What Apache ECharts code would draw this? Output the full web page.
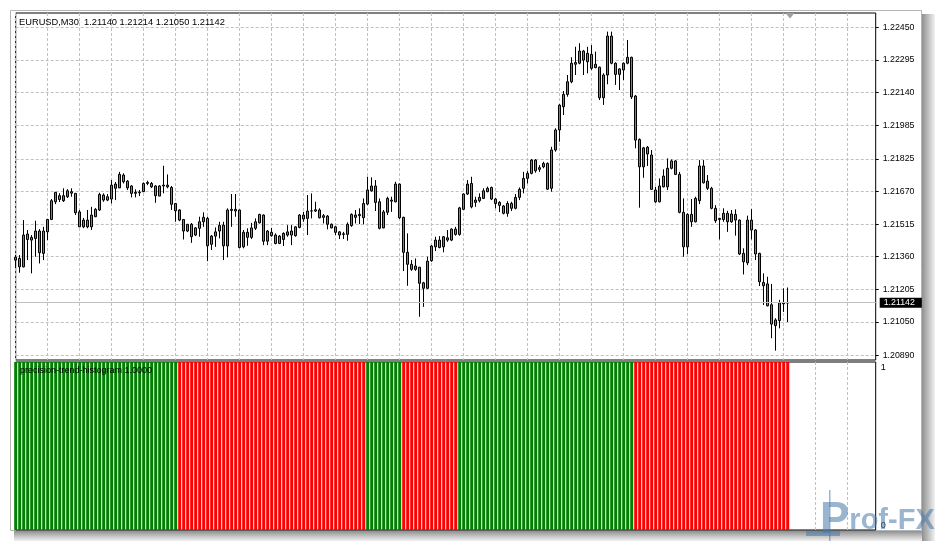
<!DOCTYPE html>
<html><head><meta charset="utf-8">
<script src="https://cdn.jsdelivr.net/npm/echarts@6/dist/echarts.min.js"></script>
<style>html,body{margin:0;padding:0;background:#fff}#c{width:935px;height:541px}</style>
</head><body><div id="c"></div>
<script>
const open = [1.21344,1.21352,1.21312,1.21468,1.21439,1.21447,1.21482,1.21376,1.21478,1.21537,
1.21621,1.21650,1.21626,1.21645,1.21662,1.21661,1.21573,1.21502,1.21534,1.21502,
1.21550,1.21582,1.21653,1.21629,1.21634,1.21705,1.21687,1.21748,1.21719,1.21696,
1.21666,1.21664,1.21669,1.21708,1.21708,1.21696,1.21648,1.21696,1.21700,1.21689,
1.21613,1.21582,1.21537,1.21482,1.21514,1.21463,1.21495,1.21526,1.21542,1.21419,
1.21458,1.21482,1.21510,1.21411,1.21580,1.21585,1.21582,1.21407,1.21476,1.21452,
1.21495,1.21521,1.21558,1.21434,1.21476,1.21463,1.21423,1.21442,1.21463,1.21482,
1.21460,1.21499,1.21558,1.21542,1.21577,1.21577,1.21582,1.21547,1.21553,1.21514,
1.21502,1.21478,1.21469,1.21466,1.21508,1.21558,1.21555,1.21545,1.21610,1.21673,
1.21696,1.21621,1.21497,1.21571,1.21624,1.21621,1.21705,1.21547,1.21381,1.21324,
1.21300,1.21310,1.21236,1.21210,1.21341,1.21407,1.21439,1.21407,1.21439,1.21439,
1.21491,1.21466,1.21585,1.21658,1.21708,1.21618,1.21626,1.21637,1.21669,1.21689,
1.21634,1.21618,1.21601,1.21566,1.21613,1.21590,1.21642,1.21685,1.21732,1.21756,
1.21819,1.21775,1.21787,1.21803,1.21685,1.21867,1.21962,1.22072,1.22131,1.22191,
1.22274,1.22279,1.22337,1.22286,1.22321,1.22258,1.22260,1.22115,1.22223,1.22408,
1.22279,1.22226,1.22247,1.22279,1.22307,1.22123,1.21917,1.21787,1.21880,1.21843,
1.21677,1.21621,1.21692,1.21692,1.21780,1.21815,1.21751,1.21571,1.21407,1.21561,
1.21526,1.21626,1.21791,1.21719,1.21685,1.21590,1.21542,1.21537,1.21566,1.21526,
1.21561,1.21534,1.21376,1.21331,1.21534,1.21487,1.21376,1.21238,1.21231,1.21132,
1.21033,1.21057,1.21141,1.21140];
const close = [1.21358,1.21312,1.21463,1.21442,1.21452,1.21482,1.21379,1.21482,1.21537,1.21626,
1.21666,1.21632,1.21650,1.21673,1.21669,1.21569,1.21502,1.21534,1.21502,1.21558,
1.21585,1.21656,1.21629,1.21645,1.21700,1.21685,1.21751,1.21716,1.21687,1.21661,
1.21661,1.21667,1.21708,1.21713,1.21692,1.21650,1.21696,1.21700,1.21692,1.21609,
1.21578,1.21534,1.21482,1.21514,1.21455,1.21497,1.21526,1.21547,1.21412,1.21458,
1.21478,1.21508,1.21412,1.21582,1.21585,1.21577,1.21404,1.21476,1.21452,1.21497,
1.21526,1.21561,1.21434,1.21482,1.21460,1.21423,1.21458,1.21471,1.21478,1.21463,
1.21502,1.21558,1.21539,1.21577,1.21578,1.21583,1.21545,1.21555,1.21514,1.21497,
1.21476,1.21463,1.21466,1.21514,1.21561,1.21547,1.21561,1.21613,1.21677,1.21696,
1.21618,1.21495,1.21573,1.21637,1.21629,1.21705,1.21545,1.21381,1.21324,1.21300,
1.21316,1.21234,1.21210,1.21339,1.21411,1.21439,1.21404,1.21455,1.21450,1.21491,
1.21466,1.21592,1.21658,1.21705,1.21597,1.21629,1.21642,1.21673,1.21685,1.21634,
1.21613,1.21604,1.21566,1.21613,1.21590,1.21642,1.21680,1.21732,1.21756,1.21819,
1.21768,1.21783,1.21803,1.21681,1.21867,1.21962,1.22080,1.22131,1.22191,1.22279,
1.22282,1.22337,1.22294,1.22326,1.22255,1.22274,1.22115,1.22223,1.22408,1.22279,
1.22226,1.22252,1.22279,1.22307,1.22119,1.21914,1.21787,1.21877,1.21848,1.21680,
1.21621,1.21696,1.21743,1.21780,1.21815,1.21751,1.21571,1.21407,1.21561,1.21526,
1.21637,1.21791,1.21711,1.21685,1.21590,1.21531,1.21537,1.21566,1.21526,1.21563,
1.21534,1.21373,1.21336,1.21534,1.21487,1.21373,1.21241,1.21222,1.21127,1.21040,
1.21060,1.21141,1.21136,1.21142];
const low = [1.21306,1.21284,1.21309,1.21344,1.21281,1.21360,1.21328,1.21344,1.21439,1.21534,
1.21610,1.21620,1.21620,1.21639,1.21645,1.21558,1.21501,1.21496,1.21495,1.21487,
1.21548,1.21577,1.21621,1.21624,1.21613,1.21629,1.21686,1.21708,1.21677,1.21642,
1.21642,1.21648,1.21667,1.21700,1.21686,1.21616,1.21648,1.21661,1.21685,1.21582,
1.21526,1.21529,1.21442,1.21477,1.21426,1.21458,1.21455,1.21502,1.21339,1.21392,
1.21407,1.21447,1.21344,1.21357,1.21502,1.21550,1.21400,1.21400,1.21412,1.21444,
1.21487,1.21518,1.21415,1.21415,1.21455,1.21419,1.21420,1.21411,1.21455,1.21415,
1.21455,1.21495,1.21526,1.21463,1.21542,1.21573,1.21542,1.21518,1.21490,1.21495,
1.21463,1.21444,1.21444,1.21436,1.21502,1.21518,1.21515,1.21514,1.21605,1.21669,
1.21577,1.21490,1.21495,1.21558,1.21573,1.21618,1.21539,1.21292,1.21222,1.21293,
1.21293,1.21075,1.21122,1.21207,1.21336,1.21387,1.21400,1.21381,1.21431,1.21434,
1.21460,1.21460,1.21582,1.21653,1.21590,1.21597,1.21618,1.21634,1.21666,1.21629,
1.21590,1.21572,1.21561,1.21550,1.21577,1.21585,1.21629,1.21661,1.21708,1.21751,
1.21759,1.21763,1.21780,1.21677,1.21669,1.21859,1.21906,1.22033,1.22120,1.22184,
1.22223,1.22274,1.22223,1.22231,1.22247,1.22255,1.22104,1.22081,1.22179,1.22274,
1.22176,1.22152,1.22199,1.22274,1.22109,1.21875,1.21593,1.21735,1.21791,1.21677,
1.21616,1.21618,1.21689,1.21677,1.21775,1.21748,1.21566,1.21360,1.21373,1.21502,
1.21523,1.21610,1.21708,1.21677,1.21585,1.21521,1.21442,1.21526,1.21478,1.21521,
1.21460,1.21368,1.21276,1.21320,1.21442,1.21344,1.21221,1.21131,1.21124,1.20973,
1.20914,1.21020,1.21098,1.21050];
const high = [1.21368,1.21368,1.21534,1.21487,1.21463,1.21531,1.21491,1.21502,1.21539,1.21634,
1.21667,1.21662,1.21685,1.21681,1.21685,1.21662,1.21582,1.21544,1.21582,1.21597,
1.21591,1.21664,1.21661,1.21658,1.21724,1.21715,1.21763,1.21756,1.21724,1.21700,
1.21680,1.21677,1.21713,1.21721,1.21715,1.21700,1.21700,1.21792,1.21751,1.21696,
1.21615,1.21586,1.21539,1.21515,1.21520,1.21501,1.21550,1.21571,1.21550,1.21463,
1.21499,1.21526,1.21526,1.21590,1.21658,1.21658,1.21584,1.21487,1.21495,1.21521,
1.21542,1.21564,1.21561,1.21487,1.21497,1.21471,1.21463,1.21476,1.21510,1.21510,
1.21505,1.21563,1.21573,1.21653,1.21661,1.21621,1.21590,1.21563,1.21558,1.21518,
1.21505,1.21482,1.21478,1.21523,1.21566,1.21582,1.21590,1.21637,1.21740,1.21737,
1.21724,1.21637,1.21582,1.21645,1.21645,1.21716,1.21708,1.21550,1.21471,1.21344,
1.21352,1.21312,1.21241,1.21360,1.21415,1.21455,1.21458,1.21458,1.21487,1.21495,
1.21502,1.21597,1.21661,1.21724,1.21740,1.21645,1.21661,1.21685,1.21693,1.21693,
1.21640,1.21624,1.21605,1.21624,1.21621,1.21658,1.21689,1.21763,1.21767,1.21824,
1.21824,1.21795,1.21811,1.21808,1.21882,1.21970,1.22085,1.22147,1.22223,1.22307,
1.22357,1.22374,1.22342,1.22357,1.22365,1.22334,1.22263,1.22231,1.22429,1.22429,
1.22283,1.22255,1.22283,1.22389,1.22310,1.22128,1.21922,1.21882,1.21886,1.21867,
1.21692,1.21732,1.21775,1.21827,1.21822,1.21819,1.21763,1.21637,1.21566,1.21634,
1.21645,1.21819,1.21819,1.21748,1.21692,1.21605,1.21545,1.21590,1.21578,1.21582,
1.21585,1.21537,1.21400,1.21555,1.21586,1.21491,1.21379,1.21281,1.21265,1.21231,
1.21068,1.21155,1.21210,1.21214];
// 1 = green (up trend), 0 = red (down trend)
const trendUp = [1,1,1,1,1,1,1,1,1,1,1,1,1,1,1,1,1,1,1,1,1,1,1,1,1,1,1,1,1,1,1,1,1,1,1,1,1,1,1,1,1,
0,0,0,0,0,0,0,0,0,0,0,0,0,0,0,0,0,0,0,0,0,0,0,0,0,0,0,0,0,0,0,0,0,0,0,0,0,0,0,0,0,0,0,0,0,0,0,
1,1,1,1,1,1,1,1,1,
0,0,0,0,0,0,0,0,0,0,0,0,0,0,
1,1,1,1,1,1,1,1,1,1,1,1,1,1,1,1,1,1,1,1,1,1,1,1,1,1,1,1,1,1,1,1,1,1,1,1,1,1,1,1,1,1,1,1,
0,0,0,0,0,0,0,0,0,0,0,0,0,0,0,0,0,0,0,0,0,0,0,0,0,0,0,0,0,0,0,0,0,0,0,0,0,0,0];
const priceTicks = [1.20890,1.21050,1.21205,1.21360,1.21515,1.21670,1.21825,1.21985,1.22140,1.22295,1.22450];
const histTicks = [0, 1];
const lastPrice = 1.21142;
const titleText = 'EURUSD,M30  1.21140 1.21214 1.21050 1.21142';
const indicatorText = 'precision-trend-histogram 1.0000';
const watermark = 'Prof-FX';
const totalSlots = 216; // bars plus empty right shift
const slots = Array.from({length: totalSlots}, (_, i) => String(i));

const candleData = open.map((o, i) => [o, close[i], low[i], high[i]]);
const histData = trendUp.map(u => ({value: 1, itemStyle: {color: u ? '#008000' : '#ff0000'}}));

const FONT = 'Liberation Sans';
const WM = 'rgba(70,120,170,0.55)';
const gridDash = {color: '#c0c0c0', type: [3, 2], width: 1};
const chart = echarts.init(document.getElementById('c'), null, {renderer: 'canvas'});
chart.setOption({
  animation: false,
  backgroundColor: '#ffffff',
  title: [
    {text: titleText, left: 19, top: 17.5, padding: 0,
     textStyle: {fontSize: 9.3, fontWeight: 'normal', color: '#000', fontFamily: FONT}},
    {text: indicatorText, left: 20, top: 366, padding: 0, z: 20,
     textStyle: {fontSize: 9, fontWeight: 'normal', color: '#000', fontFamily: FONT}}
  ],
  grid: [
    {left: 15.7, top: 13, width: 860, height: 347, show: true, borderColor: '#000', borderWidth: 1, backgroundColor: '#fff'},
    {left: 15.7, top: 362, width: 860, height: 168, show: true, borderColor: '#000', borderWidth: 1, backgroundColor: '#fff'}
  ],
  xAxis: [0, 1].map(g => ({
    type: 'category', gridIndex: g, data: slots, boundaryGap: false,
    axisLine: {show: false}, axisTick: {show: false}, axisLabel: {show: false},
    splitLine: {show: true, interval: 7, lineStyle: gridDash}
  })),
  yAxis: [
    {type: 'value', gridIndex: 0, position: 'right', min: 1.208696, max: 1.225175,
     axisLine: {show: false},
     axisTick: {show: true, customValues: priceTicks, length: 3, lineStyle: {color: '#000'}},
     axisLabel: {customValues: priceTicks, formatter: v => v.toFixed(5), color: '#000',
                 fontSize: 8.8, fontFamily: FONT, margin: 7},
     splitLine: {show: true, lineStyle: gridDash}},
    {type: 'value', gridIndex: 1, position: 'right', min: 0, max: 1,
     axisLine: {show: false}, axisTick: {show: false}, splitLine: {show: false},
     axisLabel: {customValues: histTicks, margin: 5,
                 formatter: v => v === 1 ? '{t|1}' : '{b|0}',
                 rich: {t: {padding: [12, 0, 0, 0], fontSize: 9, color: '#000', fontFamily: FONT},
                        b: {padding: [0, 0, 8, 0], fontSize: 9, color: '#000', fontFamily: FONT}}}}
  ],
  series: [
    {type: 'line', xAxisIndex: 0, yAxisIndex: 0, data: [], z: 2, silent: true,
     markLine: {silent: true, symbol: 'none', animation: false, precision: 5,
       data: [{yAxis: lastPrice}],
       lineStyle: {color: '#c0c0c0', type: 'solid', width: 1},
       label: {position: 'end', formatter: lastPrice.toFixed(5), color: '#fff', backgroundColor: '#000',
               padding: [1, 7, 0, 4], fontSize: 8.8, fontFamily: FONT, distance: 4}}},
    {type: 'candlestick', xAxisIndex: 0, yAxisIndex: 0, data: candleData, barWidth: 2.6, z: 3,
     itemStyle: {color: '#26a69a', color0: '#ef5350', borderColor: '#000', borderColor0: '#000', borderWidth: 1}},
    {type: 'bar', xAxisIndex: 1, yAxisIndex: 1, data: histData, barWidth: 3, z: 3}
  ],
  graphic: [
    {type: 'rect', z: -10, shape: {x: 10.5, y: 10.5, width: 911, height: 520}, style: {fill: 'none', stroke: '#b4b4b4', lineWidth: 1}},
    {type: 'rect', z: 1, shape: {x: 922, y: 14, width: 13, height: 527},
     style: {fill: new echarts.graphic.LinearGradient(0, 0, 1, 0, [{offset: 0, color: '#909090'}, {offset: 1, color: '#f2f2f2'}])}},
    {type: 'rect', z: 1, shape: {x: 14, y: 531, width: 908, height: 10},
     style: {fill: new echarts.graphic.LinearGradient(0, 0, 0, 1, [{offset: 0, color: '#909090'}, {offset: 1, color: '#f2f2f2'}])}},
    {type: 'polygon', z: 50, shape: {points: [[785.5, 13], [794.5, 13], [790, 18.5]]}, style: {fill: '#a0a0a0'}},
    {type: 'rect', z: 100, shape: {x: 806, y: 531, width: 34, height: 5}, style: {fill: WM}},
    {type: 'rect', z: 100, shape: {x: 829, y: 490, width: 1.5, height: 51}, style: {fill: WM}},
    {type: 'text', z: 100, x: 820, y: 543,
     style: {text: '{p|P}{r|rof-FX}', verticalAlign: 'bottom',
       rich: {p: {fontSize: 44, fontWeight: 'bold', fontFamily: FONT, fill: WM},
              r: {fontSize: 29, fontWeight: 'bold', fontFamily: FONT, fill: WM}}}}
  ]
});
</script></body></html>
